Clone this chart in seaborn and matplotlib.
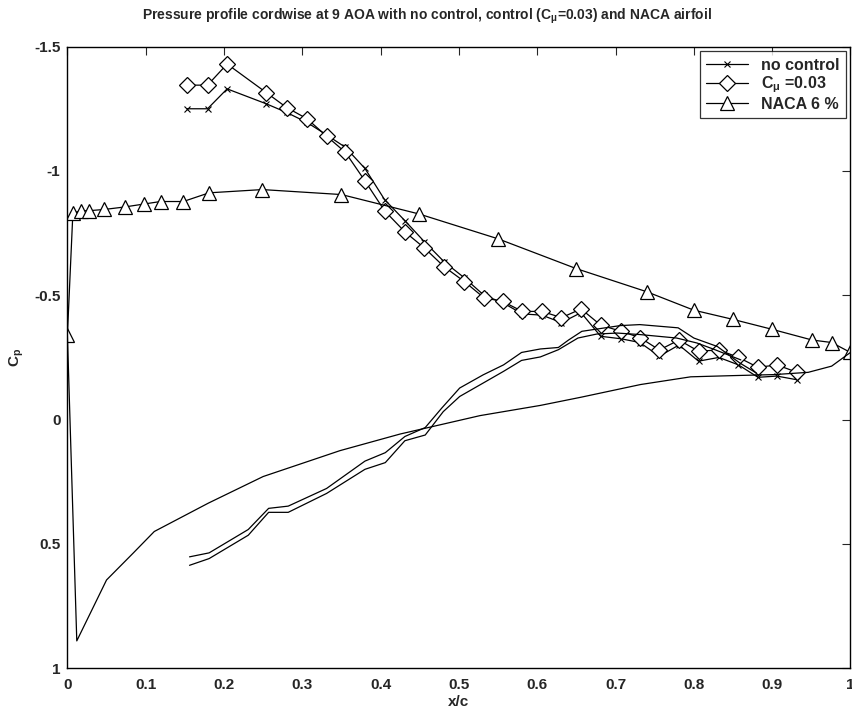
import matplotlib
matplotlib.use('Agg')
import matplotlib.pyplot as plt
import seaborn as sns
from matplotlib.ticker import FuncFormatter

# upper surface stations (shared by both wind tunnel runs)
upper_x = [0.153, 0.179, 0.204, 0.254, 0.280, 0.306, 0.331, 0.355, 0.380, 0.405,
           0.431, 0.456, 0.481, 0.507, 0.532, 0.556, 0.581, 0.606, 0.631, 0.656,
           0.681, 0.707, 0.731, 0.756, 0.781, 0.806, 0.832, 0.857, 0.882, 0.906, 0.932]
nc_upper = [-1.25, -1.25, -1.33, -1.27, -1.235, -1.195, -1.145, -1.095, -1.01, -0.885,
            -0.8, -0.715, -0.635, -0.57, -0.5, -0.47, -0.425, -0.42, -0.39, -0.43,
            -0.335, -0.325, -0.31, -0.255, -0.3, -0.235, -0.25, -0.22, -0.17, -0.175, -0.16]
cm_upper = [-1.345, -1.345, -1.43, -1.315, -1.255, -1.21, -1.14, -1.075, -0.96, -0.84,
            -0.755, -0.69, -0.615, -0.555, -0.49, -0.475, -0.435, -0.435, -0.41, -0.445,
            -0.38, -0.355, -0.33, -0.28, -0.32, -0.275, -0.28, -0.25, -0.21, -0.22, -0.19]

# lower surfaces (plain lines)
lowA_x = [0.156, 0.181, 0.231, 0.257, 0.282, 0.331, 0.380, 0.406, 0.431, 0.457, 0.478,
          0.501, 0.531, 0.557, 0.580, 0.604, 0.627, 0.640, 0.657, 0.676, 0.706, 0.731,
          0.780, 0.800, 0.830, 0.859, 0.880]
lowA_cp = [0.552, 0.536, 0.442, 0.357, 0.348, 0.277, 0.167, 0.133, 0.068, 0.032, -0.046,
           -0.127, -0.18, -0.22, -0.27, -0.284, -0.29, -0.32, -0.355, -0.364, -0.378, -0.382,
           -0.369, -0.328, -0.294, -0.227, -0.187]
lowB_x = [0.156, 0.181, 0.231, 0.257, 0.282, 0.331, 0.380, 0.406, 0.431, 0.457, 0.480,
          0.501, 0.531, 0.557, 0.580, 0.604, 0.627, 0.652, 0.676, 0.702, 0.731, 0.778,
          0.804, 0.827, 0.860]
lowB_cp = [0.586, 0.559, 0.465, 0.373, 0.373, 0.297, 0.2, 0.173, 0.085, 0.062, -0.032,
           -0.093, -0.147, -0.194, -0.238, -0.252, -0.281, -0.328, -0.344, -0.348, -0.342,
           -0.328, -0.308, -0.281, -0.24]

# NACA airfoil
naca_up_x = [0, 0.007, 0.017, 0.027, 0.047, 0.073, 0.098, 0.119, 0.148, 0.181, 0.249,
             0.35, 0.449, 0.55, 0.65, 0.74, 0.80, 0.85, 0.90, 0.951, 0.976, 1.0]
naca_up_cp = [-0.34, -0.83, -0.84, -0.84, -0.845, -0.855, -0.867, -0.877, -0.877, -0.912,
              -0.925, -0.905, -0.827, -0.727, -0.607, -0.514, -0.44, -0.403, -0.363, -0.32,
              -0.31, -0.27]
naca_lo_x = [0, 0.012, 0.05, 0.084, 0.111, 0.18, 0.25, 0.348, 0.425, 0.527, 0.604, 0.656,
             0.732, 0.796, 0.852, 0.903, 0.946, 0.976, 1.0]
naca_lo_cp = [-0.34, 0.89, 0.645, 0.537, 0.45, 0.336, 0.229, 0.125, 0.058, -0.016, -0.057,
              -0.09, -0.141, -0.172, -0.177, -0.181, -0.19, -0.215, -0.27]

sns.set_style('white')
plt.rcParams['font.family'] = ['Liberation Sans', 'DejaVu Sans']
plt.rcParams['mathtext.fontset'] = 'custom'
plt.rcParams['mathtext.rm'] = 'Liberation Sans:bold'
plt.rcParams['mathtext.it'] = 'Liberation Sans:bold'
plt.rcParams['mathtext.bf'] = 'Liberation Sans:bold'

fig = plt.figure(figsize=(8.53, 7.17), dpi=100)
ax = fig.add_axes([0.079, 0.068, 0.918, 0.867])

lw = 0.9
common = dict(estimator=None, sort=False, color='black', linewidth=lw, ax=ax)

h1 = sns.lineplot(x=upper_x, y=nc_upper, marker='x', markersize=4,
                  markeredgecolor='black', markeredgewidth=0.8, **common).lines[-1]
h2 = sns.lineplot(x=upper_x, y=cm_upper, marker='D', markersize=8.5,
                  markerfacecolor='white', markeredgecolor='black',
                  markeredgewidth=0.9, **common).lines[-1]
h3 = sns.lineplot(x=naca_up_x, y=naca_up_cp, marker='^', markersize=9.5,
                  markerfacecolor='white', markeredgecolor='black',
                  markeredgewidth=0.9, **common).lines[-1]
sns.lineplot(x=lowA_x, y=lowA_cp, **common)
sns.lineplot(x=lowB_x, y=lowB_cp, **common)
sns.lineplot(x=naca_lo_x, y=naca_lo_cp, **common)

ax.set_xlim(0, 1)
ax.set_ylim(1, -1.5)
ax.set_xticks([i / 10 for i in range(11)])
ax.set_yticks([-1.5, -1, -0.5, 0, 0.5, 1])
ax.xaxis.set_major_formatter(FuncFormatter(lambda v, p: '%g' % v))
ax.yaxis.set_major_formatter(FuncFormatter(lambda v, p: '%g' % v))
ax.tick_params(direction='in', length=6, width=0.8, top=True, right=True,
               labelsize=11, pad=5)
ax.tick_params(axis='x', pad=7)
for lab in ax.get_xticklabels() + ax.get_yticklabels():
    lab.set_fontweight('bold')
for s in ax.spines.values():
    s.set_color('black')
    s.set_linewidth(1.0)

ax.set_xlabel('x/c', fontsize=11, fontweight='bold', labelpad=2)
ax.set_ylabel('C$_\\mathregular{p}$', fontsize=11, fontweight='bold', labelpad=6)
fig.text(427 / 853, 1 - 16 / 717,
         'Pressure profile cordwise at 9 AOA with no control, control (C$_\\mathregular{\\mu}$=0.03) and NACA airfoil',
         fontsize=10, fontweight='bold', ha='center', va='center')

leg = ax.legend([h1, h2, h3], ['no control', 'C$_\\mathregular{\\mu}$ =0.03', 'NACA 6 %'],
                loc='upper right', frameon=True, fancybox=False,
                prop={'weight': 'bold', 'size': 11.5}, handlelength=2.6,
                borderaxespad=0.3, labelspacing=0.1, borderpad=0.4, handletextpad=0.8)
leg.get_frame().set_edgecolor('black')
leg.get_frame().set_linewidth(0.9)

fig.savefig('out.png', dpi=100)
